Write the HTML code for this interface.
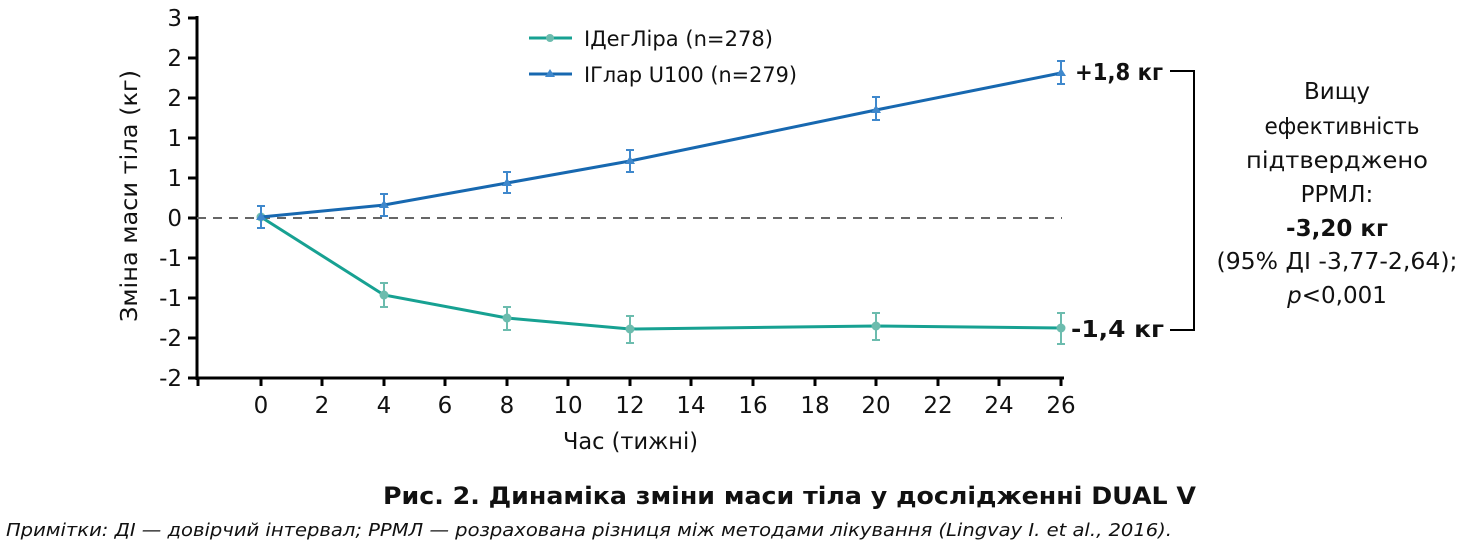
<!DOCTYPE html>
<html><head><meta charset="utf-8"><style>
body{margin:0;background:#fff;width:1464px;height:544px;overflow:hidden}
svg text{font-family:"DejaVu Sans","Liberation Sans",sans-serif;fill:#111}
</style></head><body>
<svg width="1464" height="544" viewBox="0 0 1464 544" xmlns="http://www.w3.org/2000/svg">
<g stroke="#000" stroke-width="3" fill="none">
<line x1="197" y1="16" x2="197" y2="380"/>
<line x1="195" y1="378" x2="1064" y2="378"/>
<line x1="188" y1="18" x2="197" y2="18"/><line x1="188" y1="58" x2="197" y2="58"/>
<line x1="188" y1="98" x2="197" y2="98"/><line x1="188" y1="138" x2="197" y2="138"/>
<line x1="188" y1="178" x2="197" y2="178"/><line x1="188" y1="218" x2="197" y2="218"/>
<line x1="188" y1="258" x2="197" y2="258"/><line x1="188" y1="298" x2="197" y2="298"/>
<line x1="188" y1="338" x2="197" y2="338"/><line x1="188" y1="378" x2="197" y2="378"/>
<line x1="198" y1="378" x2="198" y2="386"/><line x1="261" y1="378" x2="261" y2="386"/>
<line x1="322" y1="378" x2="322" y2="386"/><line x1="384" y1="378" x2="384" y2="386"/>
<line x1="445" y1="378" x2="445" y2="386"/><line x1="507" y1="378" x2="507" y2="386"/>
<line x1="568" y1="378" x2="568" y2="386"/><line x1="630" y1="378" x2="630" y2="386"/>
<line x1="691" y1="378" x2="691" y2="386"/><line x1="753" y1="378" x2="753" y2="386"/>
<line x1="815" y1="378" x2="815" y2="386"/><line x1="876" y1="378" x2="876" y2="386"/>
<line x1="938" y1="378" x2="938" y2="386"/><line x1="999" y1="378" x2="999" y2="386"/>
<line x1="1061" y1="378" x2="1061" y2="386"/>
</g>
<line x1="197" y1="218" x2="1062" y2="218" stroke="#666" stroke-width="2" stroke-dasharray="9,7"/>
<g font-size="23" text-anchor="end">
<text x="182" y="26">3</text><text x="182" y="66">2</text><text x="182" y="106">2</text>
<text x="182" y="146">1</text><text x="182" y="186">1</text><text x="182" y="226">0</text>
<text x="182" y="266">-1</text><text x="182" y="306">-1</text><text x="182" y="346">-2</text>
<text x="182" y="386">-2</text></g>
<g font-size="23" text-anchor="middle">
<text x="261" y="413">0</text><text x="322" y="413">2</text><text x="384" y="413">4</text>
<text x="445" y="413">6</text><text x="507" y="413">8</text><text x="568" y="413">10</text>
<text x="630" y="413">12</text><text x="691" y="413">14</text><text x="753" y="413">16</text>
<text x="815" y="413">18</text><text x="876" y="413">20</text><text x="938" y="413">22</text>
<text x="999" y="413">24</text><text x="1061" y="413">26</text>
</g>
<text x="563" y="449" font-size="23" textLength="135" lengthAdjust="spacingAndGlyphs">Час (тижні)</text>
<text font-size="23" transform="translate(137,322) rotate(-90)" textLength="252" lengthAdjust="spacingAndGlyphs">Зміна маси тіла (кг)</text>
<polyline points="261,217 384,295 507,318 630,329 876,326 1061,328" fill="none" stroke="#17a192" stroke-width="3"/>
<g stroke="#6cbcae" stroke-width="2" fill="none">
<path d="M384,283V307M380,283H388M380,307H388"/>
<path d="M507,307V330M503,307H511M503,330H511"/>
<path d="M630,316V343M626,316H634M626,343H634"/>
<path d="M876,313V340M872,313H880M872,340H880"/>
<path d="M1061,313V344M1057,313H1065M1057,344H1065"/>
</g>
<g fill="#6cbcae"><circle cx="384" cy="295" r="4.5"/><circle cx="507" cy="318" r="4.5"/><circle cx="630" cy="329" r="4.5"/><circle cx="876" cy="326" r="4.5"/><circle cx="1061" cy="328" r="4.5"/><circle cx="261" cy="217" r="4.5"/></g>
<polyline points="261,217 384,205 507,183 630,161 876,110 1061,73" fill="none" stroke="#1768b0" stroke-width="3"/>
<g stroke="#3f88cc" stroke-width="2" fill="none">
<path d="M261,206V228M257,206H265M257,228H265"/>
<path d="M384,194V216M380,194H388M380,216H388"/>
<path d="M507,172V193M503,172H511M503,193H511"/>
<path d="M630,150V172M626,150H634M626,172H634"/>
<path d="M876,97V120M872,97H880M872,120H880"/>
<path d="M1061,61V84M1057,61H1065M1057,84H1065"/>
</g>
<g fill="#3f88cc">
<path d="M261,212l5,8h-10z"/><path d="M384,200l5,8h-10z"/><path d="M507,178l5,8h-10z"/>
<path d="M630,156l5,8h-10z"/><path d="M876,105l5,8h-10z"/><path d="M1061,68l5,8h-10z"/>
</g>
<line x1="529" y1="38" x2="572" y2="38" stroke="#17a192" stroke-width="3"/><circle cx="550" cy="38" r="4" fill="#6cbcae"/>
<text x="584" y="46" font-size="21" textLength="189" lengthAdjust="spacingAndGlyphs">ІДегЛіра (n=278)</text>
<line x1="529" y1="74" x2="572" y2="74" stroke="#1768b0" stroke-width="3"/><path d="M550,69l5,8h-10z" fill="#3f88cc"/>
<text x="584" y="82" font-size="21" textLength="213" lengthAdjust="spacingAndGlyphs">ІГлар U100 (n=279)</text>
<text x="1075" y="80" font-size="23" font-weight="bold" textLength="88" lengthAdjust="spacingAndGlyphs">+1,8 кг</text>
<text x="1071" y="337" font-size="23" font-weight="bold" textLength="93" lengthAdjust="spacingAndGlyphs">-1,4 кг</text>
<path d="M1170,71H1194V330H1170" fill="none" stroke="#000" stroke-width="2"/>
<g font-size="23" text-anchor="middle">
<text x="1337" y="99">Вищу</text>
<text x="1342" y="134" textLength="155" lengthAdjust="spacingAndGlyphs">ефективність</text>
<text x="1337" y="168" textLength="182" lengthAdjust="spacingAndGlyphs">підтверджено</text><text x="1337" y="202">РРМЛ:</text>
<text x="1337" y="236" font-weight="bold">-3,20 кг</text>
<text x="1337" y="269" textLength="241" lengthAdjust="spacingAndGlyphs">(95% ДІ -3,77-2,64);</text>
<text x="1337" y="303"><tspan font-style="italic">p</tspan>&lt;0,001</text>
</g>
<text x="383" y="504" font-size="24" font-weight="bold" textLength="813" lengthAdjust="spacingAndGlyphs">Рис. 2. Динаміка зміни маси тіла у дослідженні DUAL V</text>
<text x="6" y="536" font-size="18" font-style="italic" textLength="1166" lengthAdjust="spacingAndGlyphs">Примітки: ДІ — довірчий інтервал; РРМЛ — розрахована різниця між методами лікування (Lingvay I. et al., 2016).</text>
</svg>
</body></html>
